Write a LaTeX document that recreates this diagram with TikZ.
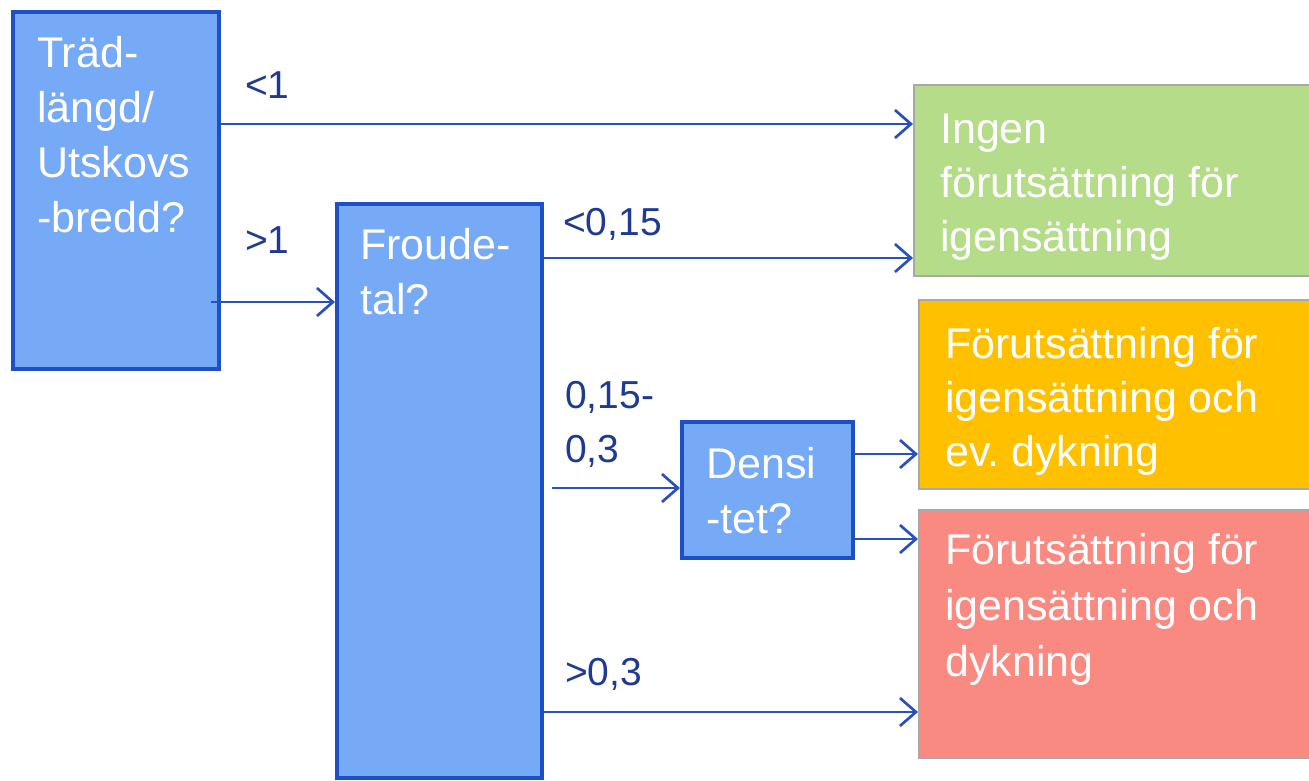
\documentclass[tikz,border=0pt]{standalone}
\usepackage{fontspec}
\setmainfont{Liberation Sans}
\usetikzlibrary{arrows.meta}
\definecolor{qfill}{HTML}{76A9F6}
\definecolor{qedge}{HTML}{1F4FC4}
\definecolor{wire}{HTML}{2A50BC}
\definecolor{lbl}{HTML}{1F3A93}
\definecolor{okfill}{HTML}{B5DC88}
\definecolor{warnfill}{HTML}{FFC000}
\definecolor{badfill}{HTML}{F98A82}
\definecolor{resedge}{HTML}{A8A8A8}
\tikzset{
  qbox/.style={draw=qedge, fill=qfill, line width=4pt, rectangle, inner sep=0pt, anchor=north west},
  resbox/.style={draw=resedge, line width=1.5pt, rectangle, inner sep=0pt, anchor=north west},
  % multi-line texts are placed by the baseline of their last line
  intext/.style={anchor=base west, inner sep=0pt, text=white, align=left,
    font=\fontsize{43}{55}\selectfont},
  edgelbl/.style={anchor=base west, inner sep=0pt, text=lbl, align=left,
    font=\fontsize{39}{54}\selectfont},
  arr/.style={draw=wire, line width=2.7pt, -{Straight Barb[length=16pt,width=28pt,line width=2.7pt]}}
}
\begin{document}
\begin{tikzpicture}[x=1pt,y=-1pt]
  \useasboundingbox (0,0) rectangle (1309,780);

  % question boxes
  \node[qbox, minimum width=206pt, minimum height=357pt] (ratio) at (11,10) {};
  \node[qbox, minimum width=205pt, minimum height=574pt] (froude) at (335,202) {};
  \node[qbox, minimum width=171pt, minimum height=136pt] (dens) at (680,420) {};

  % outcome boxes
  \node[resbox, fill=okfill, minimum width=400pt, minimum height=191pt] (none) at (913,84) {};
  \node[resbox, fill=warnfill, minimum width=395pt, minimum height=189pt] (maybe) at (918,299) {};
  \node[resbox, fill=badfill, minimum width=395pt, minimum height=248pt] (dive) at (918,509) {};

  % box texts
  \node[intext] (tratio) at (37,232) {Träd-\\längd/\\Utskovs\\-bredd?};
  \node[intext] (tfroude) at (360,314) {Froude-\\tal?};
  \node[intext] (tdens) at (706,533) {Densi\\-tet?};
  \node[intext, font=\fontsize{43}{54}\selectfont] (tnone) at (940,251) {Ingen\\förutsättning för\\igensättning};
  \node[intext, font=\fontsize{43}{54}\selectfont] (tmaybe) at (945,466) {Förutsättning för\\igensättning och\\ev.\ dykning};
  \node[intext, font=\fontsize{43}{56}\selectfont] (tdive) at (945,676) {Förutsättning för\\igensättning och\\dykning};

  % connectors
  \draw[arr] (ratio.east |- 0,124) -- (none.west |- 0,124);
  \draw[arr] ([xshift=-10pt]ratio.east |- 0,302) -- (froude.west |- 0,302);
  \draw[arr] (froude.east |- 0,258) -- (none.west |- 0,258);
  \draw[arr] ([xshift=8pt]froude.east |- 0,488) -- (dens.west |- 0,488);
  \draw[arr] (dens.east |- 0,454) -- (maybe.west |- 0,454);
  \draw[arr] (dens.east |- 0,539) -- (dive.west |- 0,539);
  \draw[arr] (froude.east |- 0,712) -- (dive.west |- 0,712);

  % edge labels
  \node[edgelbl] (l1) at (245,98) {<1};
  \node[edgelbl] (l2) at (245,253) {>1};
  \node[edgelbl] (l3) at (563,235) {<0,15};
  \node[edgelbl] (l4) at (565,462) {0,15-\\0,3};
  \node[edgelbl] (l5) at (565,685) {>0,3};
\end{tikzpicture}
\end{document}
